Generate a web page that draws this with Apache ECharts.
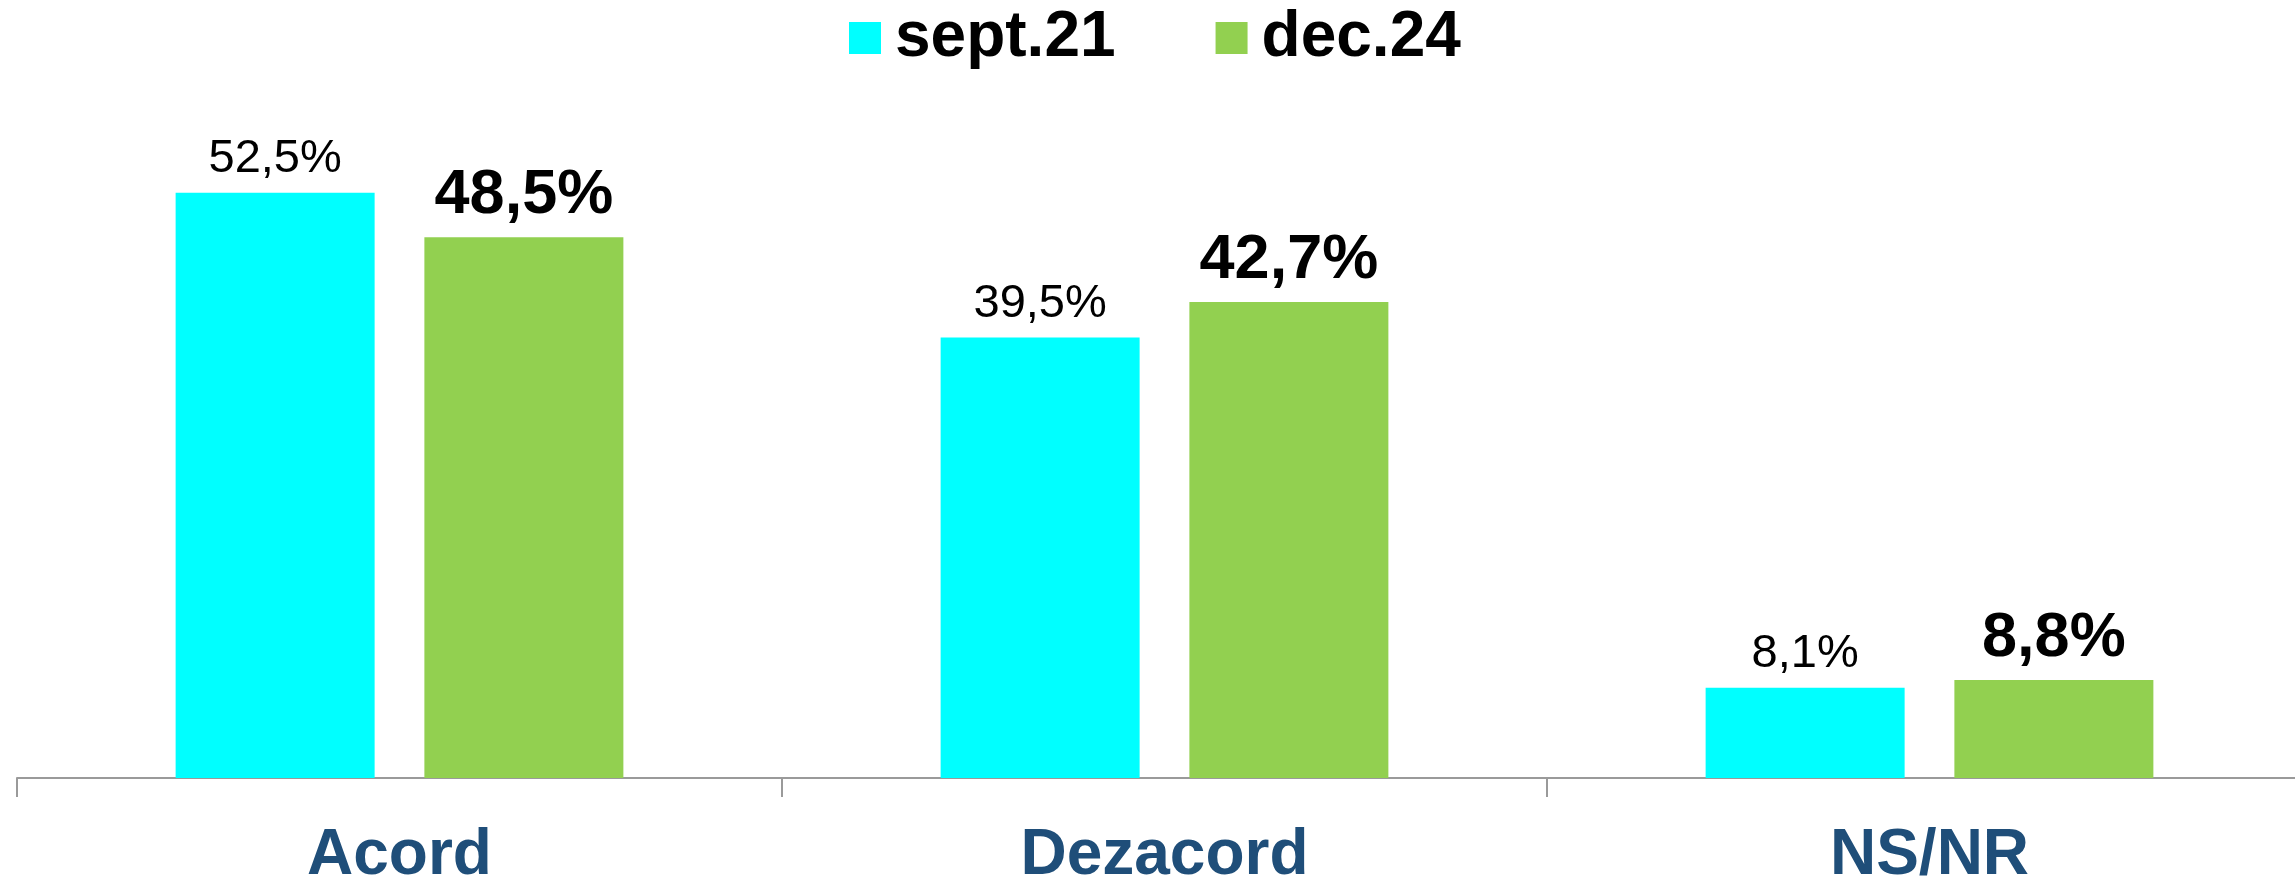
<!DOCTYPE html>
<html>
<head>
<meta charset="utf-8">
<script src="https://cdn.jsdelivr.net/npm/echarts@6/dist/echarts.min.js"></script>
<style>
html,body{margin:0;padding:0;background:#fff;}
#chart{width:2295px;height:879px;}
</style>
</head>
<body>
<div id="chart"></div>
<script>
const categories = ['Acord', 'Dezacord', 'NS/NR'];
const seriesNames = ['sept.21', 'dec.24'];
const sept21 = [52.5, 39.5, 8.1];
const dec24 = [48.5, 42.7, 8.8];

const FF = 'Liberation Sans, Arial, sans-serif';
const fmt = p => p.value.toFixed(1).replace('.', ',') + '%';
const chart = echarts.init(document.getElementById('chart'), null, {renderer: 'canvas'});
chart.setOption({
  animation: false,
  textStyle: {fontFamily: FF},
  legend: {
    top: 1,
    left: 844,
    itemWidth: 32,
    itemHeight: 32,
    itemGap: 100,
    icon: 'rect',
    textStyle: {fontSize: 64, fontWeight: 'bold', color: '#000', fontFamily: FF, padding: [0, 0, 0, 9]},
    data: seriesNames
  },
  grid: {left: 17, right: -17, top: 109, bottom: 101, containLabel: false, outerBoundsMode: 'none'},
  xAxis: {
    type: 'category',
    data: categories,
    axisLine: {lineStyle: {color: '#9a9a9a', width: 2}},
    axisTick: {show: true, length: 19, lineStyle: {color: '#9a9a9a', width: 2}},
    axisLabel: {fontSize: 64, fontWeight: 'bold', color: '#1F4E79', margin: 46, fontFamily: FF}
  },
  yAxis: {
    type: 'value', min: 0, max: 60, show: false,
    splitLine: {show: false}
  },
  series: [
    {
      name: seriesNames[0], type: 'bar', data: sept21,
      barWidth: 199, barGap: '25%',
      itemStyle: {color: '#00FFFF'},
      label: {show: true, position: 'top', distance: 10, formatter: fmt,
        fontSize: 47, color: '#000', fontFamily: FF}
    },
    {
      name: seriesNames[1], type: 'bar', data: dec24,
      barWidth: 199,
      itemStyle: {color: '#92D050'},
      label: {show: true, position: 'top', distance: 10, formatter: fmt,
        fontSize: 63, fontWeight: 'bold', color: '#000', fontFamily: FF}
    }
  ]
});
</script>
</body>
</html>
